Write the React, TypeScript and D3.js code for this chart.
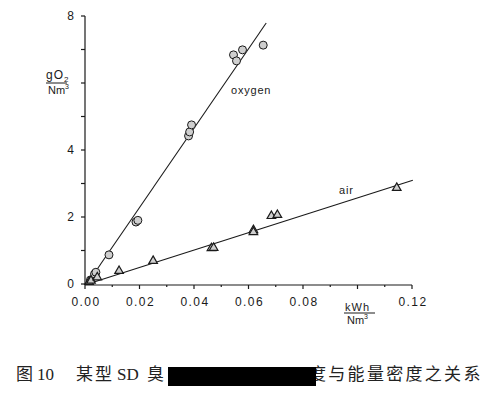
import * as d3 from "d3";

// readings taken off the figure (kWh/Nm3 vs gO2/Nm3)
const oxygenX = [0.002, 0.0035, 0.004, 0.0088, 0.0187, 0.0194, 0.038, 0.0384, 0.0391, 0.0545, 0.0556, 0.0578, 0.0654];
const oxygenY = [0.12, 0.3, 0.35, 0.87, 1.85, 1.9, 4.42, 4.54, 4.75, 6.84, 6.66, 6.99, 7.13];
const airX = [0.0015, 0.0022, 0.0045, 0.0125, 0.025, 0.0464, 0.0472, 0.0618, 0.0618, 0.0684, 0.0706, 0.1144];
const airY = [0.06, 0.1, 0.2, 0.39, 0.69, 1.07, 1.08, 1.61, 1.55, 2.03, 2.06, 2.87];

// fitted lines as drawn in the figure
const oxygenFitX = [0.003, 0.0665];
const oxygenFitY = [0.27, 7.79];
const airFitX = [0.0033, 0.1203];
const airFitY = [0.06, 3.1];

const xMajor = [0, 0.02, 0.04, 0.06, 0.08, 0.1, 0.12];
const xMinor = [0.01, 0.03, 0.05, 0.07, 0.09, 0.11];
const xLabels = ["0.00", "0.02", "0.04", "0.06", "0.08", "", "0.12"];
const yTicks = [0, 1, 2, 3, 4, 5, 6, 7, 8];
const yLabels = ["0", "", "2", "", "4", "", "", "", "8"];

const W = 491;
const H = 394;
const FONT = "'Liberation Sans', Arial, sans-serif";
const INK = "#1a1a1a";

const App = () => {
  const x = d3.scaleLinear().domain([0, 0.12]).range([85, 412]);
  const y = d3.scaleLinear().domain([0, 8]).range([284, 16]);
  const line = d3
    .line<[number, number]>()
    .x((d) => x(d[0]))
    .y((d) => y(d[1]));
  const tri = d3.symbol().type(d3.symbolTriangle).size(32)();

  const oxyFit = oxygenFitX.map((v, i) => [v, oxygenFitY[i]] as [number, number]);
  const airFit = airFitX.map((v, i) => [v, airFitY[i]] as [number, number]);

  return (
    <div style={{ position: "absolute", left: 0, top: 0 }}>
      <svg width={W} height={H} style={{ display: "block", background: "#fff" }}>
        {/* y axis */}
        <g stroke={INK} strokeWidth={1.2}>
          <line x1={x(0)} x2={x(0)} y1={y(8)} y2={y(0) + 1} />
          {yTicks.map((t) => (
            <line key={t} x1={x(0) - 4} x2={x(0)} y1={y(t)} y2={y(t)} />
          ))}
        </g>
        <g fontFamily={FONT} fontSize={12} fill={INK} textAnchor="end">
          {yTicks.map((t, i) => (
            <text key={t} x={x(0) - 11} y={y(t) + 4}>
              {yLabels[i]}
            </text>
          ))}
        </g>
        {/* x axis */}
        <g stroke={INK} strokeWidth={1.2}>
          <line x1={x(0)} x2={x(0.12)} y1={y(0) + 1} y2={y(0) + 1} />
          {xMajor.map((t) => (
            <line key={t} x1={x(t)} x2={x(t)} y1={y(0) + 1} y2={y(0) + 5} />
          ))}
          {xMinor.map((t) => (
            <line key={t} x1={x(t)} x2={x(t)} y1={y(0) + 1} y2={y(0) + 3} />
          ))}
        </g>
        <g fontFamily={FONT} fontSize={12} fill={INK} textAnchor="middle" letterSpacing={1.4}>
          {xMajor.map((t, i) => (
            <text key={t} x={x(t) + 1} y={306}>
              {xLabels[i]}
            </text>
          ))}
        </g>

        {/* unit labels */}
        <g fontFamily={FONT} fill={INK} fontSize={12}>
          <text x={46} y={79} letterSpacing={1}>
            gO<tspan fontSize={8} dy={3}>2</tspan>
          </text>
          <line x1={46} x2={67} y1={y(6)} y2={y(6)} stroke={INK} strokeWidth={1} />
          <text x={48} y={94} fontSize={11}>
            Nm<tspan fontSize={7} dy={-5}>3</tspan>
          </text>
          <text x={345} y={311} fontSize={11} letterSpacing={1}>
            kWh
          </text>
          <line x1={344} x2={375} y1={313} y2={313} stroke={INK} strokeWidth={1} />
          <text x={347} y={324} fontSize={11}>
            Nm<tspan fontSize={7} dy={-5}>3</tspan>
          </text>
        </g>

        {/* fitted lines */}
        <path d={line(oxyFit) ?? ""} fill="none" stroke={INK} strokeWidth={1.1} />
        <path d={line(airFit) ?? ""} fill="none" stroke={INK} strokeWidth={1.1} />

        {/* points */}
        <g fill="#cfcfcf" stroke={INK} strokeWidth={1}>
          {oxygenX.map((v, i) => (
            <circle key={i} cx={x(v)} cy={y(oxygenY[i])} r={4} />
          ))}
        </g>
        <g fill="#cfcfcf" stroke={INK} strokeWidth={1.2}>
          {airX.map((v, i) => (
            <path key={i} d={tri ?? ""} transform={`translate(${x(v)},${y(airY[i])})`} />
          ))}
        </g>

        <g fontFamily={FONT} fontSize={11} fill={INK} letterSpacing={0.8}>
          <text x={231} y={94}>oxygen</text>
          <text x={339} y={194}>air</text>
        </g>

        {/* caption */}
        <g fill="#222" fontSize={17}>
          <text x={16} y={380} fontFamily="'Noto Sans CJK SC', sans-serif">图</text>
          <text x={37} y={380} fontFamily="'Liberation Serif', serif">10</text>
          <text x={76} y={380} fontFamily="'Noto Sans CJK SC', sans-serif" letterSpacing={2}>某型</text>
          <text x={117} y={380} fontFamily="'Liberation Serif', serif">SD</text>
          <text x={147} y={380} fontFamily="'Noto Sans CJK SC', sans-serif">臭</text>
          <text x={309} y={380} fontFamily="'Noto Sans CJK SC', sans-serif" letterSpacing={2.3}>
            度与能量密度之关系
          </text>
          <rect x={168} y={367} width={148} height={19} fill="#000" />
        </g>
      </svg>
    </div>
  );
};

export default App;
